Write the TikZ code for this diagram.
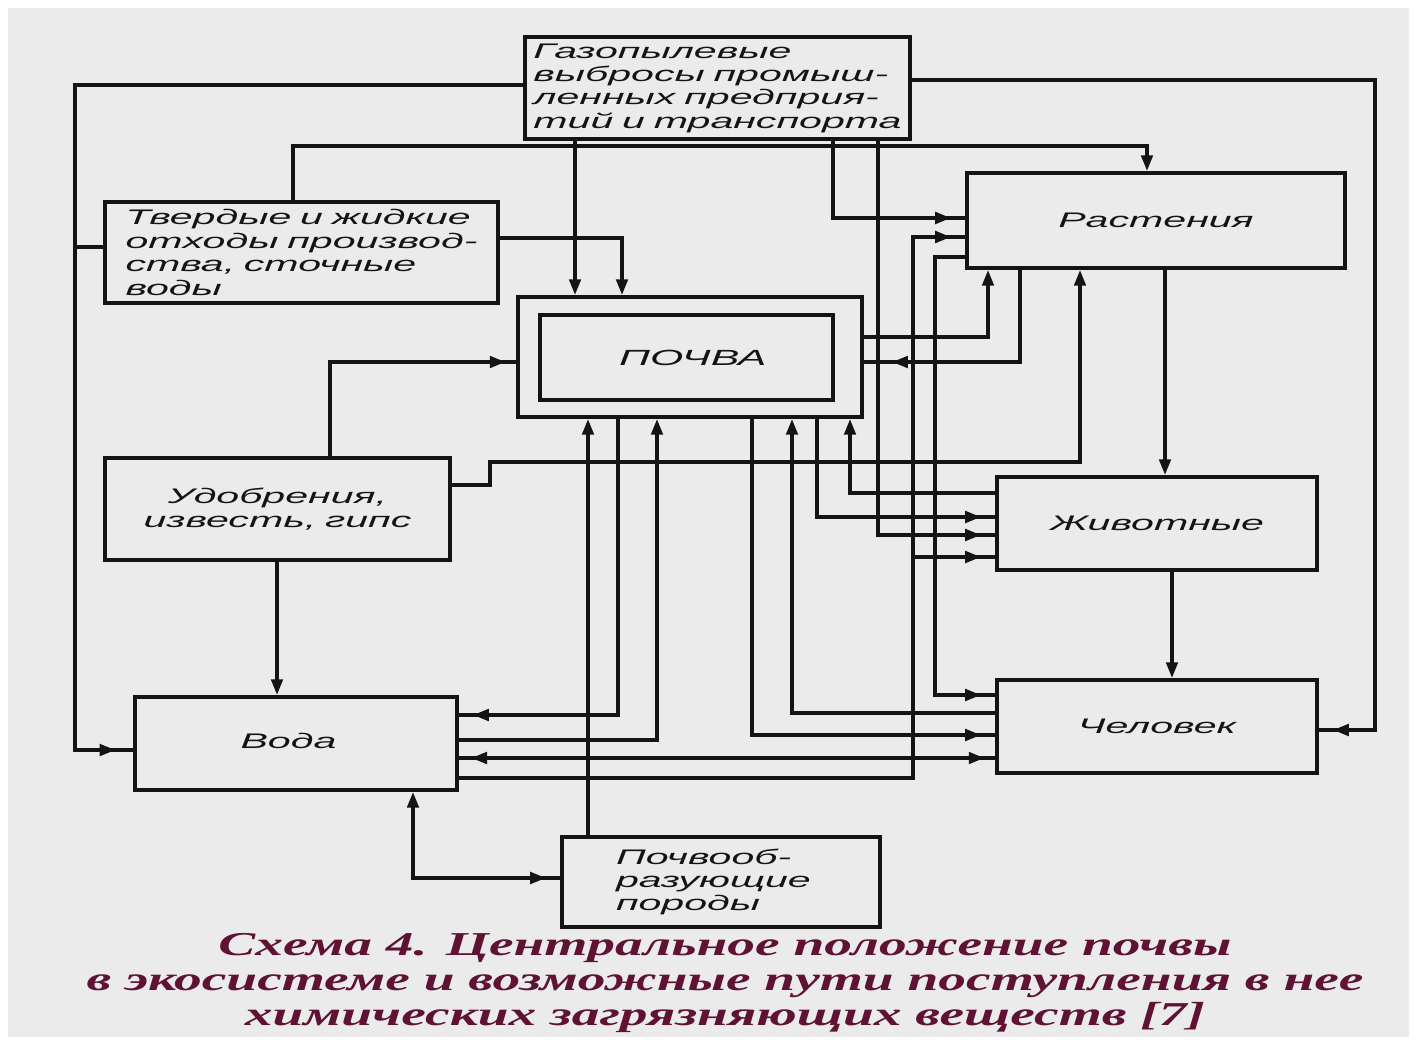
\documentclass[tikz,border=0pt]{standalone}
\usepackage{fontspec}
\usetikzlibrary{arrows.meta,decorations.markings}
\newfontfamily\boxfont{Liberation Sans}[FakeStretch=1.95]
\newfontfamily\capfont{Liberation Serif}[FakeStretch=1.66]
\definecolor{bg}{RGB}{235,235,235}
\definecolor{ink}{RGB}{20,20,20}
\definecolor{capc}{RGB}{95,18,52}
\newcommand{\boxtext}{\boxfont\itshape\fontsize{12}{13.3}\selectfont\spaceskip=5pt\relax}
\begin{document}
\begin{tikzpicture}[x=0.02cm,y=-0.02cm,
  box/.style={draw=ink, line width=2.2pt, rectangle, inner sep=0pt, text=ink,
    font=\boxtext},
  ln/.style={draw=ink, line width=2.0pt},
  vtip/.style={ln, -{Triangle[length=9pt,width=6.5pt]}},
  vtips/.style={ln, {Triangle[length=9pt,width=6.5pt]}-},
  harr/.style={ln, postaction={decorate}, decoration={markings,
    mark=at position -#1 with {\arrow{Triangle[length=9pt,width=6.5pt]}}}},
  harr/.default=8pt,
  hboth/.style={ln, postaction={decorate}, decoration={markings,
    mark=at position 7pt with {\arrowreversed{Triangle[length=9pt,width=6.5pt]}},
    mark=at position -6pt with {\arrow{Triangle[length=9pt,width=6.5pt]}}}}
]
\fill[white] (0,0) rectangle (1417,1045);
\fill[bg] (8,8) rectangle (1409,1037);
\useasboundingbox (0,0) rectangle (1417,1045);

% boxes
\node[box, minimum width=7.7cm, minimum height=2.04cm, align=left] (gas) at (717.5,88)
  {Газопылевые\\выбросы промыш-\\ленных предприя-\\тий и транспорта};
\node[box, minimum width=7.86cm, minimum height=2.02cm, align=left] (solid) at (301.5,252.5)
  {Твердые и жидкие\\отходы производ-\\ства, сточные\\воды};
\node[box, minimum width=7.56cm, minimum height=1.9cm] (plants) at (1156,220.5) {Растения};
\node[box, minimum width=6.88cm, minimum height=2.4cm] (soil) at (690,357) {};
\node[box, minimum width=5.86cm, minimum height=1.7cm, font=\boxfont\itshape\fontsize{12.5}{13.3}\selectfont] (soilin) at (686.5,357.5) {\hspace*{0.25cm}ПОЧВА};
\node[box, minimum width=6.9cm, minimum height=2.04cm, align=center] (fert) at (277.5,509)
  {Удобрения,\\известь, гипс};
\node[box, minimum width=6.4cm, minimum height=1.86cm] (animals) at (1157,523.5) {Животные};
\node[box, minimum width=6.44cm, minimum height=1.86cm] (water) at (296,743.5) {\raisebox{0.1cm}{Вода}\hspace*{0.3cm}};
\node[box, minimum width=6.4cm, minimum height=1.86cm] (human) at (1157,726.5) {Человек};
\node[box, minimum width=6.36cm, minimum height=1.8cm, text width=4.2cm, align=left] (rocks) at (721,882)
  {Почвооб-\\разующие\\породы};

% connectors
\coordinate (j1) at (913,557);
\draw[harr=10pt] (gas.west |- 0,85) -- (75,85) -- (75,750) -- (water.west |- 0,750);
\draw[ln] (solid.west |- 0,247) -- (75,247);
\draw[harr] (gas.east |- 0,80) -- (1375,80) -- (1375,730) -- (human.east |- 0,730);
\draw[vtip] (gas.south -| 575,0) -- (soil.north -| 575,0);
\draw[vtip] (solid.east |- 0,238) -- (622,238) -- (soil.north -| 622,0);
\draw[vtip] (solid.north -| 293,0) -- (293,146) -- (1147,146) -- (plants.north -| 1147,0);
\draw[harr] (gas.south -| 833,0) -- (833,218) -- (plants.west |- 0,218);
\draw[harr] (gas.south -| 878,0) -- (878,535) -- (animals.west |- 0,535);
\draw[harr] (water.east |- 0,778) -- (913,778) -- (913,237) -- (plants.west |- 0,237);
\draw[harr] (j1) -- (animals.west |- j1);
\draw[harr] (plants.west |- 0,257) -- (935,257) -- (935,695) -- (human.west |- 0,695);
\draw[vtip] (soil.east |- 0,337) -- (988,337) -- (plants.south -| 988,0);
\draw[harr=16pt] (plants.south -| 1020,0) -- (1020,362) -- (soil.east |- 0,362);
\draw[vtip] (fert.east |- 0,485) -- (490,485) -- (490,462) -- (1080,462) -- (plants.south -| 1080,0);
\draw[harr=6pt] (fert.north -| 330,0) -- (330,362) -- (soil.west |- 0,362);
\draw[vtip] (fert.south -| 277,0) -- (water.north -| 277,0);
\draw[vtip] (plants.south -| 1165,0) -- (animals.north -| 1165,0);
\draw[vtip] (animals.south -| 1172,0) -- (human.north -| 1172,0);
\draw[vtips, harr] (water.south -| 413,0) -- (413,878) -- (rocks.west |- 0,878);
\draw[vtip] (rocks.north -| 588,0) -- (soil.south -| 588,0);
\draw[harr] (soil.south -| 618,0) -- (618,715) -- (water.east |- 0,715);
\draw[vtip] (water.east |- 0,740) -- (657,740) -- (soil.south -| 657,0);
\draw[harr] (soil.south -| 752,0) -- (752,735) -- (human.west |- 0,735);
\draw[vtip] (human.west |- 0,713) -- (792,713) -- (soil.south -| 792,0);
\draw[harr] (soil.south -| 817,0) -- (817,517) -- (animals.west |- 0,517);
\draw[vtip] (animals.west |- 0,493) -- (850,493) -- (soil.south -| 850,0);
\draw[hboth] (water.east |- 0,758) -- (human.west |- 0,758);

% caption
\node[font=\capfont\bfseries\itshape\fontsize{19}{19.8}\selectfont, text=capc, align=center] (cap) at (725,983)
  {Схема 4. Центральное положение почвы\\в экосистеме и возможные пути поступления в нее\\химических загрязняющих веществ [7]};
\end{tikzpicture}
\end{document}
